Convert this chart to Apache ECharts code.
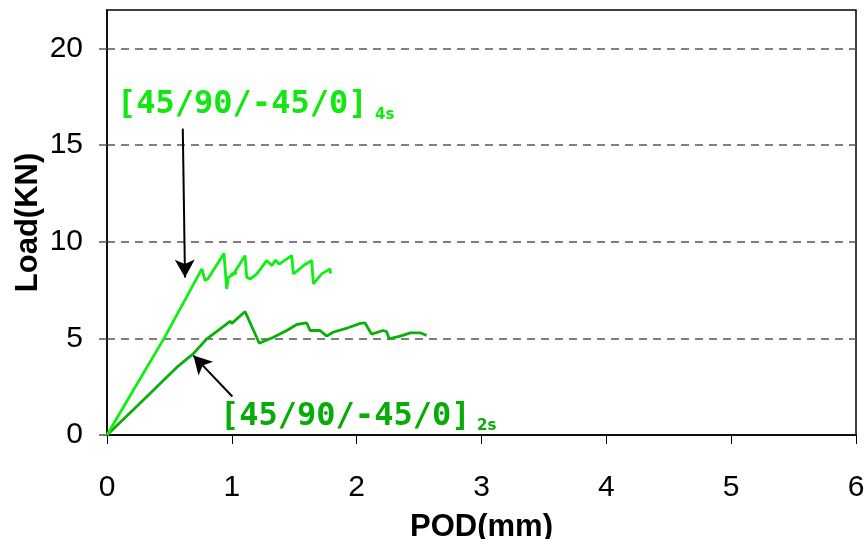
<!DOCTYPE html>
<html>
<head>
<meta charset="utf-8">
<style>
  html, body { margin: 0; padding: 0; background: #fff; }
  #chart { width: 867px; height: 539px; }
</style>
<script src="https://cdn.jsdelivr.net/npm/echarts@6/dist/echarts.min.js"></script>
</head>
<body>
<div id="chart"></div>
<script>
// Load vs. pin opening displacement for two quasi-isotropic layups
const xTicks = [0, 1, 2, 3, 4, 5, 6];
const yTicks = [0, 5, 10, 15, 20];

// [45/90/-45/0]4s : POD (mm), load (kN)
const pod4s  = [0, 0.20, 0.457, 0.60, 0.76, 0.785, 0.81, 0.937, 0.959, 0.972, 1.04, 0.99, 1.02, 1.106, 1.119, 1.15, 1.20, 1.28, 1.32, 1.35, 1.38, 1.48, 1.493, 1.56, 1.58, 1.64, 1.653, 1.72, 1.787, 1.79];
const load4s = [0, 2.2, 5.0, 6.7, 8.6, 8.0, 8.1, 9.40, 7.56, 8.16, 8.42, 8.30, 8.40, 9.29, 8.16, 8.08, 8.34, 9.03, 8.77, 9.05, 8.85, 9.29, 8.34, 8.68, 8.80, 9.03, 7.82, 8.34, 8.60, 8.35];

// [45/90/-45/0]2s : POD (mm), load (kN)
const pod2s  = [0, 0.25, 0.558, 0.69, 0.80, 0.96, 0.986, 1.0, 1.106, 1.22, 1.333, 1.44, 1.52, 1.573, 1.60, 1.627, 1.707, 1.76, 1.81, 1.93, 2.03, 2.067, 2.12, 2.21, 2.24, 2.26, 2.35, 2.43, 2.51, 2.56];
const load2s = [0, 1.55, 3.5, 4.2, 4.98, 5.75, 5.89, 5.78, 6.39, 4.75, 5.06, 5.41, 5.72, 5.78, 5.80, 5.41, 5.41, 5.12, 5.32, 5.55, 5.78, 5.80, 5.22, 5.41, 5.35, 4.98, 5.12, 5.29, 5.29, 5.15];

// Annotation arrows, in data units: [start, tip]
const arrow4s = [[0.607, 15.86], [0.625, 8.15]];
const arrow2s = [[1.004, 1.99], [0.692, 4.11]];

const layupBase = '[45/90/-45/0]';
const sub4s = '4s';
const sub2s = '2s';

const c4s = '#10f010';
const c2s = '#08b008';

function pairs(xs, ys) { return xs.map((x, i) => [x, ys[i]]); }

function arrowLine(a) {
  return {
    silent: true,
    symbol: ['none', 'arrow'],
    symbolSize: [15, 18],
    animation: false,
    label: { show: false },
    lineStyle: { color: '#000', width: 2, type: 'solid' },
    emphasis: { disabled: true },
    data: [[{ coord: a[0] }, { coord: a[1] }]]
  };
}

const chart = echarts.init(document.getElementById('chart'), null, { renderer: 'canvas' });

chart.setOption({
  animation: false,
  backgroundColor: '#fff',
  grid: {
    left: 107, right: 11, top: 10, bottom: 104,
    show: true, borderColor: '#000', borderWidth: 1.5,
    containLabel: false, outerBoundsMode: 'none'
  },
  xAxis: {
    type: 'value', min: 0, max: 6, interval: 1,
    name: 'POD(mm)', nameLocation: 'middle', nameGap: 77, nameMoveOverlap: false,
    nameTextStyle: { fontFamily: 'Liberation Sans', fontWeight: 'bold', fontSize: 31, color: '#000' },
    axisLine: { show: true, onZero: false, lineStyle: { color: '#000', width: 1.5 } },
    axisTick: { show: true, inside: false, length: 9, lineStyle: { color: '#000', width: 1 } },
    axisLabel: { fontFamily: 'Liberation Sans', fontSize: 30, color: '#000', margin: 38,
                 formatter: v => xTicks.includes(v) ? String(v) : '' },
    splitLine: { show: false }
  },
  yAxis: {
    type: 'value', min: 0, max: 22, interval: 5,
    name: 'Load(KN)', nameLocation: 'middle', nameGap: 63, nameRotate: 90, nameMoveOverlap: false,
    nameTextStyle: { fontFamily: 'Liberation Sans', fontWeight: 'bold', fontSize: 31, color: '#000' },
    axisLine: { show: true, onZero: false, lineStyle: { color: '#000', width: 1.5 } },
    axisTick: { show: true, inside: false, length: 10, customValues: yTicks,
                lineStyle: { color: '#555', width: 1.5, type: [8, 6] } },
    axisLabel: { fontFamily: 'Liberation Sans', fontSize: 30, color: '#000', margin: 24,
                 customValues: yTicks },
    splitLine: { show: true, showMinLine: false,
                 lineStyle: { color: '#555', width: 1.5, type: [8, 6] } }
  },
  series: [
    {
      name: layupBase + sub4s, type: 'line', data: pairs(pod4s, load4s),
      showSymbol: false, symbol: 'none', smooth: false,
      lineStyle: { color: c4s, width: 2.8 }, itemStyle: { color: c4s },
      z: 3, markLine: arrowLine(arrow4s)
    },
    {
      name: layupBase + sub2s, type: 'line', data: pairs(pod2s, load2s),
      showSymbol: false, symbol: 'none', smooth: false,
      lineStyle: { color: c2s, width: 2.8 }, itemStyle: { color: c2s },
      z: 2, markLine: arrowLine(arrow2s)
    }
  ],
  graphic: [
    { type: 'text', left: 117, top: 89, silent: true,
      style: { text: layupBase, fill: '#10e810', fontFamily: 'DejaVu Sans Mono', fontWeight: 'bold', fontSize: 32 } },
    { type: 'text', left: 375, top: 108, silent: true,
      style: { text: sub4s, fill: '#10e810', fontFamily: 'DejaVu Sans', fontWeight: 'bold', fontSize: 15 } },
    { type: 'text', left: 220, top: 401, silent: true,
      style: { text: layupBase, fill: '#08ac08', fontFamily: 'DejaVu Sans Mono', fontWeight: 'bold', fontSize: 32 } },
    { type: 'text', left: 477, top: 419, silent: true,
      style: { text: sub2s, fill: '#08ac08', fontFamily: 'DejaVu Sans', fontWeight: 'bold', fontSize: 15 } }
  ]
});
</script>
</body>
</html>
